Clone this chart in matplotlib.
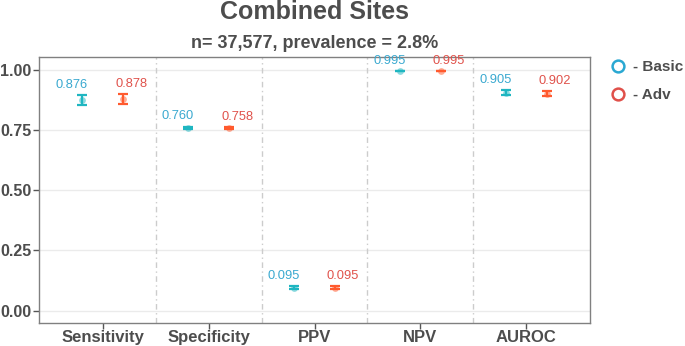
import matplotlib
matplotlib.use("Agg")
import matplotlib.pyplot as plt
from matplotlib.lines import Line2D
import numpy as np

plt.rcParams['font.family'] = ['Liberation Sans', 'DejaVu Sans']

metrics = ['Sensitivity', 'Specificity', 'PPV', 'NPV', 'AUROC']
basic = [0.876, 0.760, 0.095, 0.995, 0.905]
basic_lo = [0.856, 0.755, 0.089, 0.994, 0.894]
basic_hi = [0.897, 0.765, 0.101, 0.996, 0.916]
adv = [0.878, 0.758, 0.095, 0.995, 0.902]
adv_lo = [0.858, 0.753, 0.089, 0.994, 0.891]
adv_hi = [0.899, 0.763, 0.101, 0.996, 0.913]
series_names = ['Basic', 'Adv']
title = 'Combined Sites'
subtitle = 'n= 37,577, prevalence = 2.8%'
yticks = [0.0, 0.25, 0.5, 0.75, 1.0]

line_cols = ['#1FB6C1', '#FF5A2E']
text_cols = ['#3AA9D0', '#E0524B']
legend_cols = ['#2AA8D2', '#E0504A']
grey_txt = '#4D4D4D'

fig = plt.figure(figsize=(6.85, 3.46), dpi=100)
ax = fig.add_axes([39/685, 1-322.7/346, (590-39)/685, (322.7-57.3)/346])

x = np.arange(1, len(metrics)+1)
series = [(basic, basic_lo, basic_hi), (adv, adv_lo, adv_hi)]
offsets = [-0.19, 0.19]
lab_offsets = [-0.29, 0.27]

# grid
for yt in yticks:
    ax.axhline(yt, color='#EBEBEB', lw=1.0, zorder=0)
for xv in x[:-1] + 0.5:
    ax.axvline(xv, color='#CCCCCC', lw=1.0, linestyle=(0, (4, 2.5, 1, 2.5)), zorder=0)

for i, (vals, lo, hi) in enumerate(series):
    xs = x + offsets[i]
    vals = np.array(vals); lo = np.array(lo); hi = np.array(hi)
    ax.errorbar(xs, vals, yerr=[vals - lo, hi - vals], fmt='none',
                ecolor=line_cols[i], elinewidth=1.6, capsize=3.4, capthick=1.6, zorder=3)
    ax.scatter(xs, vals, s=24, color=line_cols[i], alpha=0.5, linewidths=0, zorder=2)
    for xv, v, h in zip(x + lab_offsets[i], vals, hi):
        ax.annotate(f'{v:.3f}', (xv, h), xytext=(0, 3), textcoords='offset points',
                    ha='center', va='bottom', color=text_cols[i], fontsize=9.3)

ax.set_xlim(0.4, 5.6)
ax.set_ylim(-0.05, 1.0525)
ax.set_xticks(x)
ax.set_xticklabels(metrics, fontsize=12, fontweight='bold', color=grey_txt)
ax.set_yticks(yticks)
ax.set_yticklabels([f'{t:.2f}' for t in yticks], fontsize=11.5, fontweight='bold', color=grey_txt)
ax.tick_params(axis='both', length=4, width=1, color='#555555', pad=1.5)
for sp in ax.spines.values():
    sp.set_color('#808080')
    sp.set_linewidth(1.0)

cx = (39 + 590) / 2 / 685
fig.text(cx, 1 - 12/346, title, ha='center', va='center', fontsize=18,
         fontweight='bold', color=grey_txt)
fig.text(cx, 1 - 43/346, subtitle, ha='center', va='center', fontsize=13,
         fontweight='bold', color=grey_txt)

handles = [Line2D([], [], linestyle='none', marker='o', markersize=8.5,
                  markerfacecolor='none', markeredgecolor=legend_cols[i],
                  markeredgewidth=1.8) for i in range(2)]
leg = fig.legend(handles, ['- ' + s for s in series_names], loc='upper left',
                 bbox_to_anchor=(603/685, 1 - 54/346), frameon=False,
                 prop={'weight': 'bold', 'size': 11}, handletextpad=0.35,
                 labelspacing=0.9, handlelength=1.2, borderaxespad=0)
for t in leg.get_texts():
    t.set_color(grey_txt)

fig.savefig('out.png', dpi=100, facecolor='white')
